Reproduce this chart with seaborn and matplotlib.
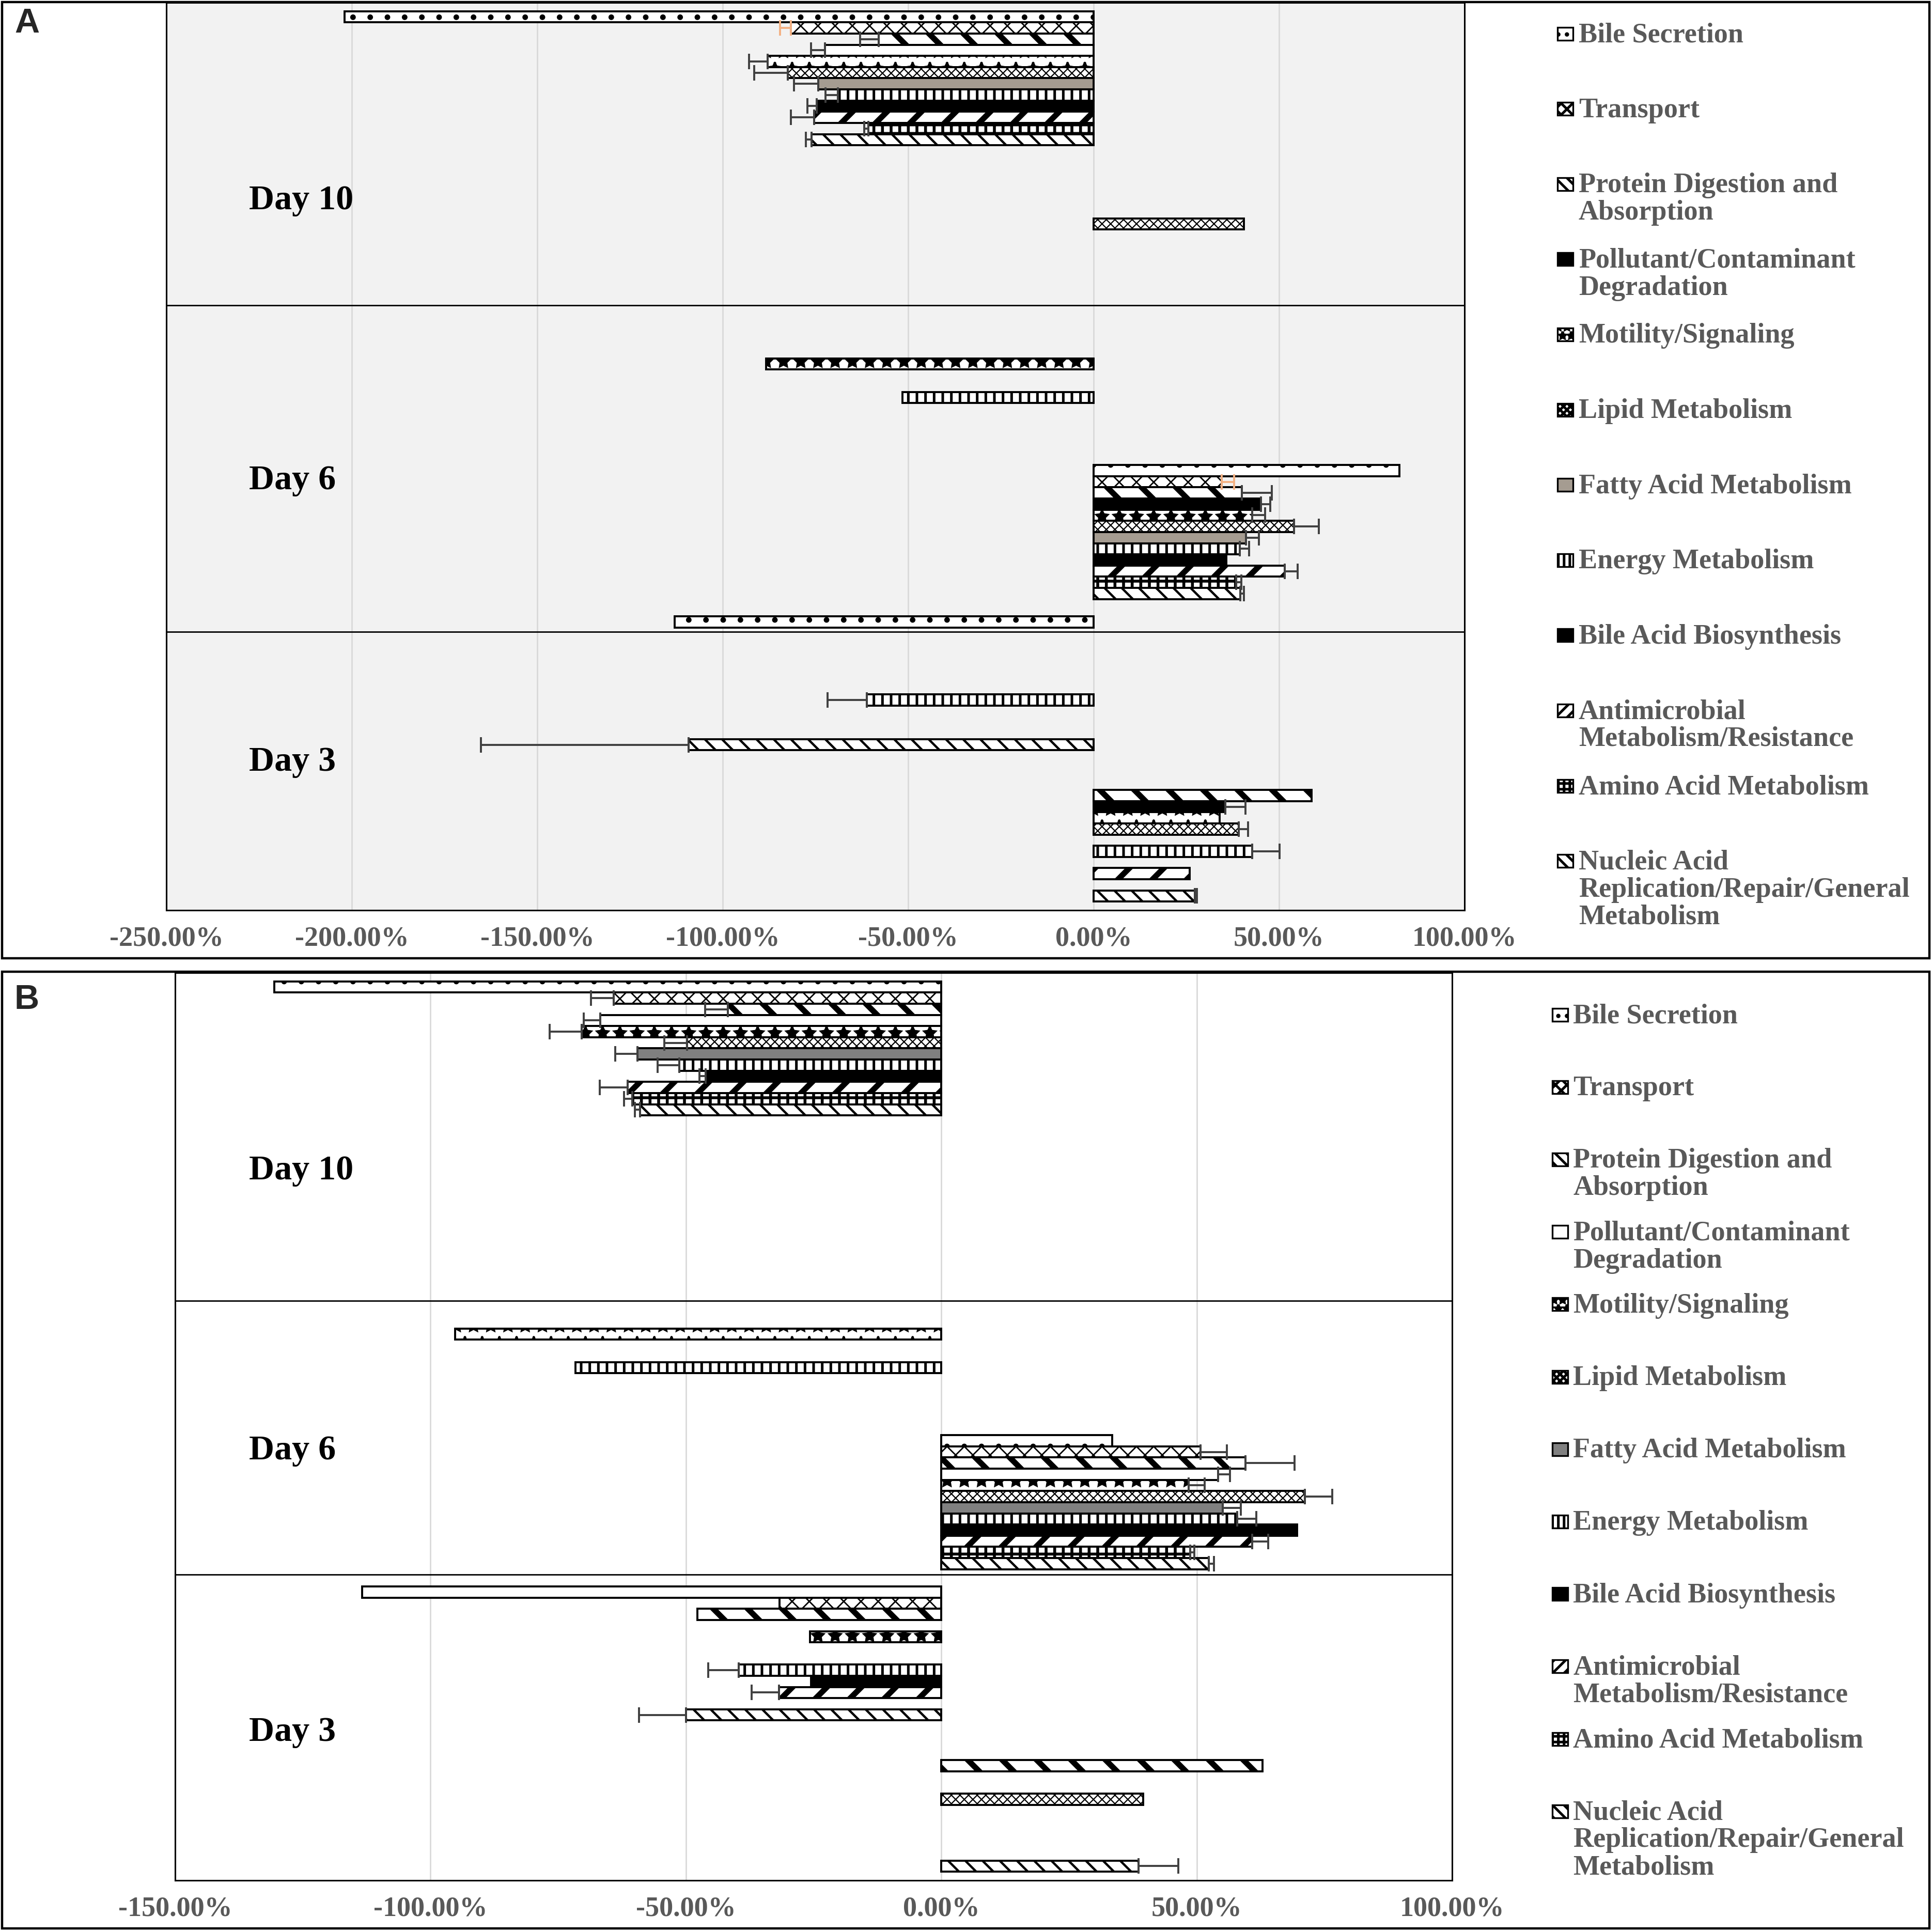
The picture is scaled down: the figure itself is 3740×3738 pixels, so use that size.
import numpy as np
import pandas as pd
import seaborn as sns
import matplotlib
matplotlib.use("Agg")
import matplotlib.pyplot as plt
from matplotlib.patches import Rectangle
from matplotlib.transforms import blended_transform_factory

nan = np.nan

categories = ["Bile Secretion", "Transport", "Protein Digestion and Absorption",
              "Pollutant/Contaminant Degradation", "Motility/Signaling", "Lipid Metabolism",
              "Fatty Acid Metabolism", "Energy Metabolism", "Bile Acid Biosynthesis",
              "Antimicrobial Metabolism/Resistance", "Amino Acid Metabolism",
              "Nucleic Acid Replication/Repair/General Metabolism"]
legend_labels = ["Bile Secretion", "Transport", "Protein Digestion and\nAbsorption",
                 "Pollutant/Contaminant\nDegradation", "Motility/Signaling", "Lipid Metabolism",
                 "Fatty Acid Metabolism", "Energy Metabolism", "Bile Acid Biosynthesis",
                 "Antimicrobial\nMetabolism/Resistance", "Amino Acid Metabolism",
                 "Nucleic Acid\nReplication/Repair/General\nMetabolism"]
groups = ["Day 10 down", "Day 10 up", "Day 6 down", "Day 6 up", "Day 3 down", "Day 3 up"]
day_labels = ["Day 10", "Day 6", "Day 3"]

# ---- panel A values (%) ----
a_d10_down = [-202.0, -81.6, -58.0, -72.4, -87.9, -82.5, -74.2, -69.0, -74.6, -75.4, -60.7, -76.1]
a_d10_down_err = [0, 3.0, 5.0, 3.8, 5.0, 9.0, 6.6, 3.3, 2.6, 6.2, 1.2, 1.5]
a_d10_up = [nan, nan, nan, nan, nan, 40.5, nan, nan, nan, nan, nan, nan]
a_d10_up_err = [0, 0, 0, 0, 0, 0, 0, 0, 0, 0, 0, 0]
a_d6_down = [nan, nan, nan, nan, -88.3, nan, nan, -51.5, nan, nan, nan, nan]
a_d6_down_err = [0, 0, 0, 0, 0, 0, 0, 0, 0, 0, 0, 0]
a_d6_up = [82.4, 34.6, 40.0, 45.1, 42.8, 54.0, 41.1, 39.4, 35.8, 51.5, 38.5, 39.5]
a_d6_up_err = [0, 3.3, 8.0, 2.5, 3.4, 6.7, 3.5, 2.5, 0, 3.5, 1.4, 1.0]
a_d3_down = [-113.0, nan, nan, nan, nan, nan, nan, -61.2, nan, nan, nan, -109.2]
a_d3_down_err = [0, 0, 0, 0, 0, 0, 0, 10.5, 0, 0, 0, 56.0]
a_d3_up = [nan, nan, 58.8, 35.5, 34.0, 39.2, nan, 42.8, nan, 25.9, nan, 27.3]
a_d3_up_err = [0, 0, 0, 5.4, 0, 2.4, 0, 7.4, 0, 0, 0, 0.5]

# ---- panel B values (%) ----
b_d10_down = [-130.6, -64.1, -41.8, -66.8, -70.4, -49.8, -59.5, -51.3, -46.1, -61.4, -60.5, -59.0]
b_d10_down_err = [0, 4.5, 4.4, 3.2, 6.3, 4.4, 4.3, 4.2, 1.2, 5.5, 1.6, 1.0]
b_d10_up = [nan, nan, nan, nan, nan, nan, nan, nan, nan, nan, nan, nan]
b_d10_up_err = [0, 0, 0, 0, 0, 0, 0, 0, 0, 0, 0, 0]
b_d6_down = [nan, nan, nan, nan, -95.2, nan, nan, -71.6, nan, nan, nan, nan]
b_d6_down_err = [0, 0, 0, 0, 0, 0, 0, 0, 0, 0, 0, 0]
b_d6_up = [33.5, 50.7, 59.5, 54.2, 48.4, 71.2, 55.1, 57.9, 69.7, 60.9, 48.7, 52.4]
b_d6_up_err = [0, 5.2, 9.7, 2.3, 3.2, 5.3, 3.5, 3.8, 0, 3.1, 0.8, 1.0]
b_d3_down = [-113.4, -31.7, -47.8, nan, -25.7, nan, nan, -39.7, -25.5, -31.8, nan, -50.0]
b_d3_down_err = [0, 0, 0, 0, 0, 0, 0, 5.9, 0, 5.3, 0, 9.2]
b_d3_up = [nan, nan, 62.9, nan, nan, 39.5, nan, nan, nan, nan, nan, 38.6]
b_d3_up_err = [0, 0, 0, 0, 0, 0, 0, 0, 0, 0, 0, 7.8]

a_ticks = [-250, -200, -150, -100, -50, 0, 50, 100]
b_ticks = [-150, -100, -50, 0, 50, 100]

# fills / patterns
colors_a = ["white", "white", "white", "black", "white", "white", "#A59C91", "white",
            "black", "white", "white", "white"]
colors_b = ["white", "white", "white", "white", "white", "white", "#808080", "white",
            "black", "white", "white", "white"]
hatches = [".", "xx", "\\", "", "*", "xxxx", "", "||", "", "/", "++", "\\\\"]
icon_hatches = ["..", "xxx", "\\\\\\", "", "**", "xxxxx", "", "|||", "", "///", "+++", "\\\\\\"]
hatch_lw = [1.5, 1.0, 4.0, 1.0, 1.5, 0.8, 1.0, 1.8, 1.0, 4.0, 2.0, 1.6]

sns.set_theme(style="white")
plt.rcParams["hatch.color"] = "black"
plt.rcParams["hatch.linewidth"] = 1.8

SERIF = ["Liberation Serif", "DejaVu Serif"]
GRAY = "#595959"
W = 0.886


def build(vals, errs):
    rows = []
    for g, v, e in zip(groups, vals, errs):
        for c, x, s in zip(categories, v, e):
            if not np.isnan(x):
                rows.append((g, c, x, s))
    return pd.DataFrame(rows, columns=["group", "category", "value", "err"])


def draw_panel(ax, df, fills, ticks, face, white_override=None, err_colors=None):
    ax.set_facecolor(face)
    sns.barplot(data=df, x="value", y="group", hue="category", order=groups,
                hue_order=categories, palette=dict(zip(categories, fills)), orient="h",
                width=W, saturation=1, edgecolor="black", linewidth=1.4, errorbar=None,
                legend=False, ax=ax, zorder=3)
    lookup = {(r.group, r.category): r.err for r in df.itertuples()}
    for p in ax.patches:
        h = p.get_height()
        if np.isnan(p.get_width()) or h == 0:
            continue
        yc = p.get_y() + h / 2
        gi = int(round(yc))
        ci = int(round((yc - gi + W / 2) / (W / 12) - 0.5))
        ci = min(max(ci, 0), 11)
        p.set_hatch(hatches[ci])
        if hasattr(p, "set_hatch_linewidth"):
            p.set_hatch_linewidth(hatch_lw[ci])
        if white_override and (gi, ci) in white_override:
            p.set_facecolor("white")
        val = p.get_width()
        e = lookup.get((groups[gi], categories[ci]), 0)
        if e and e > 0:
            xerr = [[e], [0]] if val < 0 else [[0], [e]]
            col = "#404040"
            if err_colors and ci in err_colors:
                col = err_colors[ci]
            ax.errorbar(val, yc, xerr=xerr, fmt="none", ecolor=col, elinewidth=1.4,
                        capsize=5.5, capthick=1.4, zorder=4)
    ax.set_xlim(ticks[0], ticks[-1])
    ax.set_ylim(5.5, -0.5)
    ax.set_yticks([])
    ax.set_xlabel("")
    ax.set_ylabel("")
    ax.set_xticks(ticks)
    ax.set_xticklabels([f"{t:.2f}%" for t in ticks], family=SERIF, weight="bold",
                       color=GRAY, size=19.5)
    ax.tick_params(axis="x", length=0, pad=11)
    ax.set_axisbelow(True)
    ax.xaxis.grid(True, color="#D9D9D9", lw=1.0)
    ax.yaxis.grid(False)
    for s in ax.spines.values():
        s.set_visible(True)
        s.set_color("black")
        s.set_linewidth(1.1)


df_a = build([a_d10_down, a_d10_up, a_d6_down, a_d6_up, a_d3_down, a_d3_up],
             [a_d10_down_err, a_d10_up_err, a_d6_down_err, a_d6_up_err, a_d3_down_err, a_d3_up_err])
df_b = build([b_d10_down, b_d10_up, b_d6_down, b_d6_up, b_d3_down, b_d3_up],
             [b_d10_down_err, b_d10_up_err, b_d6_down_err, b_d6_up_err, b_d3_down_err, b_d3_up_err])

FW, FH = 3740, 3738
fig = plt.figure(figsize=(FW / 200, FH / 200), dpi=200)
fig.patch.set_facecolor("white")


def axes_px(left, top, right, bottom):
    return fig.add_axes([left / FW, 1 - bottom / FH, (right - left) / FW, (bottom - top) / FH])


ax_a = axes_px(322, 5, 2835, 1762)
ax_b = axes_px(339, 1883, 2811, 3640)

draw_panel(ax_a, df_a, colors_a, a_ticks, "#F2F2F2", white_override={(0, 3)},
           err_colors={1: "#F4B183"})
draw_panel(ax_b, df_b, colors_b, b_ticks, "white")

# day separators and labels
for ax, seps, xfrac in ((ax_a, [1.5, 3.66], 0.0637), (ax_b, [1.67, 3.48], 0.0578)):
    for s in seps:
        ax.axhline(s, color="black", lw=1.0, zorder=5)
    tr = blended_transform_factory(ax.transAxes, ax.transData)
    for lab, yy in zip(day_labels, [0.81, 2.66, 4.52]):
        ax.text(xfrac, yy, lab, transform=tr, ha="left", va="center", family=SERIF,
                weight="bold", size=24.5, color="black", zorder=6)

# overlay for frames, panel letters and legends (pixel coordinates)
ov = fig.add_axes([0, 0, 1, 1], facecolor="none", zorder=10)
ov.set_xlim(0, FW)
ov.set_ylim(FH, 0)
ov.axis("off")

ov.add_patch(Rectangle((4, 4), 3731, 1851, fill=False, edgecolor="black", lw=1.6))
ov.add_patch(Rectangle((4, 1881), 3731, 1852, fill=False, edgecolor="black", lw=1.6))
ov.text(28, 46, "A", ha="left", va="center", family=["Liberation Sans", "DejaVu Sans"],
        weight="bold", size=24)
ov.text(28, 1936, "B", ha="left", va="center", family=["Liberation Sans", "DejaVu Sans"],
        weight="bold", size=24)

for fills, x_icon, x_text, y0, step in ((colors_a, 3015, 3056, 65, 145.6),
                                        (colors_b, 3005, 3045, 1964, 140.2)):
    for i, lab in enumerate(legend_labels):
        y = y0 + i * step
        r = Rectangle((x_icon, y - 12.5), 30, 25, facecolor=fills[i], edgecolor="black",
                      lw=1.2, hatch=icon_hatches[i])
        ov.add_patch(r)
        ov.text(x_text, y - 22, lab, ha="left", va="top", family=SERIF, weight="bold",
                size=19.5, color=GRAY, linespacing=1.08)

fig.savefig("out.png", dpi=200, facecolor="white")
